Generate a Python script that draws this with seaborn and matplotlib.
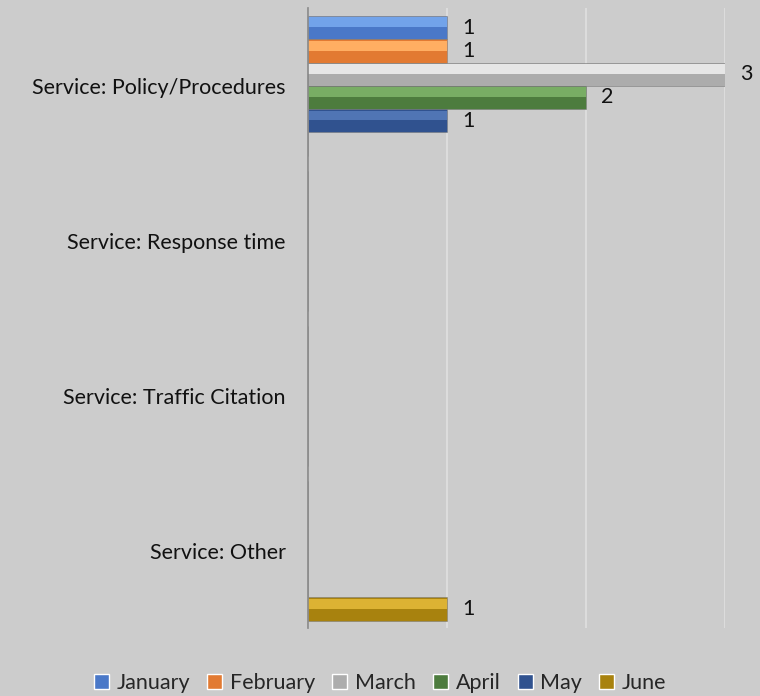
import pandas as pd
import numpy as np
import matplotlib.pyplot as plt
import matplotlib.colors as mcolors
from matplotlib.patches import Rectangle
import seaborn as sns

# Chart data
categories = ['Service: Policy/Procedures', 'Service: Response time',
              'Service: Traffic Citation', 'Service: Other']
months = ['January', 'February', 'March', 'April', 'May', 'June']
january = [1, 0, 0, 0]
february = [1, 0, 0, 0]
march = [3, 0, 0, 0]
april = [2, 0, 0, 0]
may = [1, 0, 0, 0]
june = [0, 0, 0, 1]

series = [january, february, march, april, may, june]
df = pd.DataFrame({
    'Category': np.tile(categories, len(months)),
    'Month': np.repeat(months, len(categories)),
    'Count': np.concatenate(series),
})

# colours (base = darker lower half, light = upper bevel)
base_colors = ['#4a78c8', '#e27a32', '#acacac', '#4d7c3e', '#30528f', '#a8820e']
light_colors = ['#72a3ea', '#ffae62', '#e6e6e6', '#78ad64', '#5075b4', '#dcb233']

sns.set_style('white')
plt.rcParams['font.family'] = ['Lato', 'DejaVu Sans']

fig = plt.figure(figsize=(7.6, 6.96), dpi=100, facecolor='#cccccc')
ax = fig.add_axes([0.405, 0.097, 0.549, 0.891])
ax.set_facecolor('#cccccc')

sns.barplot(data=df, x='Count', y='Category', hue='Month', orient='h',
            order=categories, hue_order=months, palette=base_colors,
            saturation=1, width=0.9, ax=ax)

# bevel highlight on the upper part of each bar + value labels
for cont, light in zip(ax.containers, light_colors):
    for p in cont.patches:
        p.set_edgecolor(mcolors.to_rgba('#777777', 0.6))
        p.set_linewidth(0.6)
        w = p.get_width()
        if w > 0:
            x0, y0, h = p.get_x(), p.get_y(), p.get_height()
            ax.add_patch(Rectangle((x0, y0 + h * 0.06), w, h * 0.42,
                                   facecolor=light, edgecolor='none', zorder=p.get_zorder() + 0.1))
    labels = [f'{v:g}' if v > 0 else '' for v in cont.datavalues]
    ax.bar_label(cont, labels=labels, padding=11, fontsize=15.5, color='#111111')

ax.set_xlim(0, 3)
ax.set_xticks([0, 1, 2, 3])
ax.set_xticklabels([])
ax.xaxis.grid(True, color='#e2e2e2', linewidth=1.1)
ax.set_axisbelow(True)
ax.tick_params(axis='both', length=0)
ax.tick_params(axis='y', pad=16, labelsize=15.5, labelcolor='#111111')
ax.set_xlabel('')
ax.set_ylabel('')
for s in ['top', 'right', 'bottom']:
    ax.spines[s].set_visible(False)
ax.spines['left'].set_color('#888888')
ax.spines['left'].set_linewidth(1.2)

handles, labels = ax.get_legend_handles_labels()
ax.get_legend().remove()
fig.legend(handles, labels, loc='lower center', bbox_to_anchor=(0.5, -0.024), ncol=6,
           frameon=False, fontsize=15.5, handlelength=0.7, handleheight=0.7,
           handletextpad=0.35, columnspacing=0.8)

fig.savefig('out.png', dpi=100, facecolor=fig.get_facecolor())
